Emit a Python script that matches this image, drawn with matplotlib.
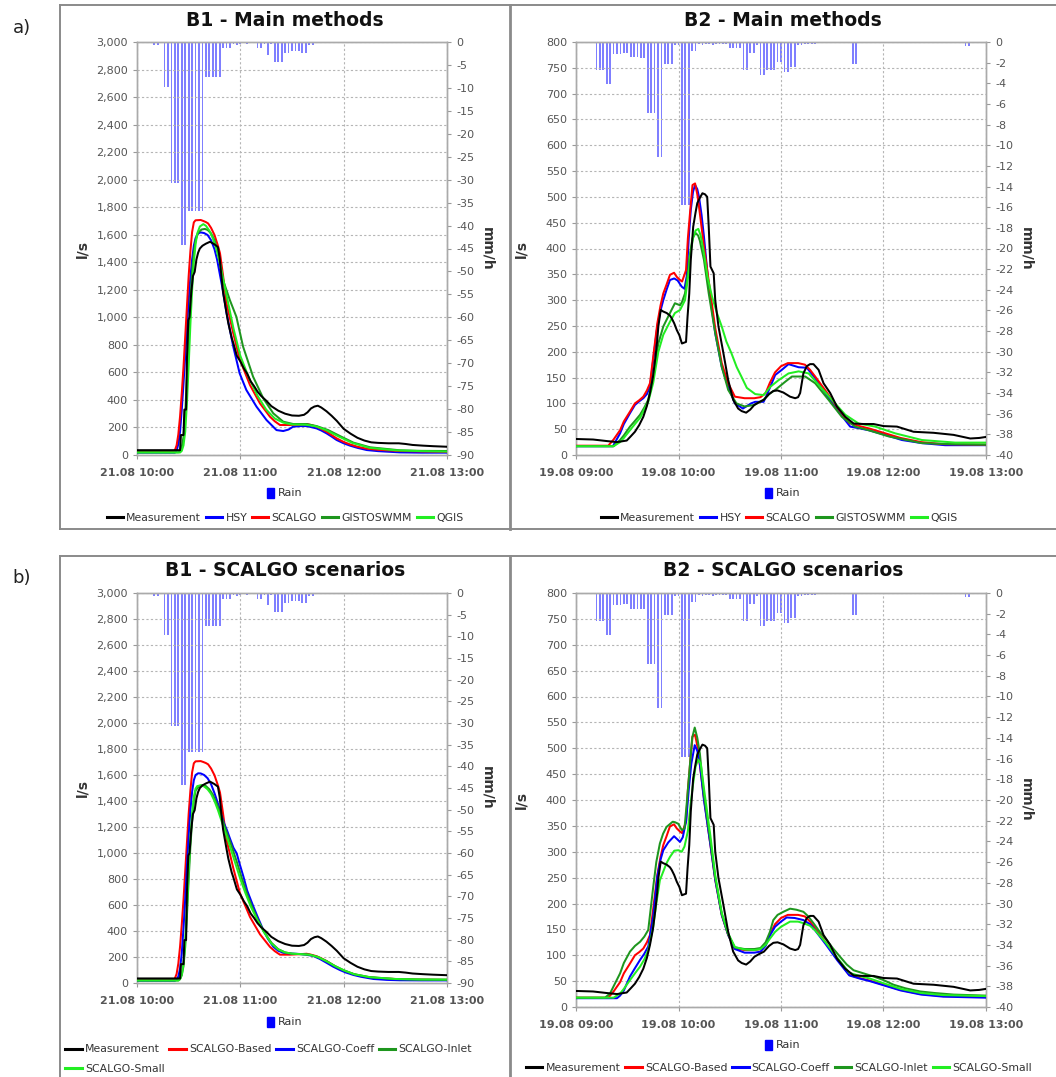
import matplotlib
matplotlib.use('Agg')
import matplotlib.pyplot as plt
from matplotlib.lines import Line2D
from matplotlib.patches import Patch
from matplotlib.ticker import FuncFormatter

plt.rcParams['axes.unicode_minus'] = False
plt.rcParams['font.family'] = ['DejaVu Sans']

# === 1. Data: B1 (minutes after 21.08 10:00) ===
b1_xlabels = ['21.08 10:00', '21.08 11:00', '21.08 12:00', '21.08 13:00']

b1_rain_t = [6, 8, 10, 12, 14, 16, 18, 20, 22, 24, 26, 28, 30, 32, 34, 36, 38, 40, 42, 44,
             46, 48, 50, 52, 54, 56, 58, 60, 62, 64, 66, 68, 70, 72, 74, 76, 78, 80, 82, 84,
             86, 88, 90, 92, 94, 96, 98, 100, 102, 104, 106, 108, 110, 112, 114, 116]
b1_rain = [-0.3, -0.3, -0.6, -0.6, -0.3, -9.7, -9.7, -30.7, -30.7, -30.7, -44.2, -44.2,
           -36.8, -36.8, -36.8, -36.8, -36.8, -7.7, -7.7, -7.7, -7.7, -7.7, -1.3, -1.3, -1.3,
           -0.4, -0.6, -0.4, -0.3, -0.4, -0.3, -0.3, -1.4, -1.4, -0.4, -2.8, -0.5, -4.3, -4.3,
           -4.3, -2.3, -2.3, -1.9, -1.9, -1.9, -2.3, -2.3, -0.7, -0.7, -0.3, -0.3, -0.2, -0.2,
           -0.2, -0.1, -0.1]

b1_meas_t = [0, 25, 25.5, 27, 27.5, 28.5, 29, 29.8, 30.5, 31.5, 32.5, 33.5, 34.5, 35.5, 36.5,
             38, 40, 42.4, 45, 47, 48, 49, 50, 52, 53, 55, 56, 58, 60, 62, 64, 66, 68, 70, 72,
             75, 78, 82, 86, 90, 94, 97, 99, 101, 103, 105, 107, 110, 113, 116, 120, 124, 128,
             132, 136, 140, 146, 152, 156, 160, 166, 172, 180]
b1_meas = [35, 35, 145, 145, 330, 330, 700, 980, 1000, 1180, 1300, 1330, 1420, 1470, 1500,
           1520, 1535, 1549, 1530, 1510, 1430, 1300, 1180, 1030, 958, 850, 810, 720, 680, 630,
           590, 535, 500, 460, 430, 395, 355, 322, 300, 287, 285, 292, 310, 338, 352, 358, 345,
           318, 285, 248, 190, 155, 125, 105, 92, 88, 85, 85, 80, 73, 68, 64, 60]

b1_hsy_t = [0, 22, 23, 24, 25, 26, 27, 28, 29, 30, 31, 32, 33, 34, 35.5, 37, 39, 41, 43, 45,
            46.5, 48, 49.5, 52, 55.9, 59.6, 63.5, 69.4, 75.2, 81, 84.9, 88, 90.7, 95, 98.5,
            101, 104.3, 107, 110.1, 113, 115.9, 120, 123.7, 128, 133.4, 140, 152.7, 165, 180]
b1_hsy = [17, 17, 30, 80, 170, 330, 520, 720, 930, 1120, 1290, 1420, 1520, 1575, 1610, 1617,
          1612, 1598, 1560, 1495, 1420, 1320, 1220, 1031, 787, 593, 472, 351, 254, 181, 174,
          185, 206, 210, 210, 203, 193, 178, 157, 134, 109, 85, 68, 52, 36, 28, 19, 17, 17]

b1_scalgo_t = [0, 21, 22, 23, 24, 25, 26, 27, 28, 29, 30, 31, 32, 33, 34, 37, 38.5, 40, 41.3,
               43, 45, 47, 48.2, 50, 52, 55.9, 59.8, 65.6, 71.4, 77.2, 80, 83, 88.8, 95, 98.5,
               101, 104.3, 107, 110.1, 113, 115.9, 120, 123.7, 128, 133.4, 140, 152.7, 165, 180]
b1_scalgo = [24, 24, 35, 70, 150, 280, 450, 640, 860, 1080, 1300, 1480, 1620, 1690, 1705, 1707,
             1700, 1692, 1682, 1650, 1598, 1520, 1465, 1300, 1101, 884, 690, 508, 375, 278, 245,
             218, 218, 222, 225, 218, 206, 190, 169, 145, 121, 95, 77, 60, 46, 38, 29, 26, 24]

b1_gisto_t = [0, 24, 25, 26, 27, 28, 29, 30, 31, 32, 33, 34, 35.5, 37.5, 39.4, 41, 43, 45, 47,
              50, 53.9, 57.7, 61.6, 67.4, 73.3, 79.1, 84.9, 90.7, 98.5, 104.3, 111, 117.8,
              125.6, 135.3, 152.7, 165, 180]
b1_gisto = [20, 20, 30, 60, 130, 300, 560, 850, 1120, 1330, 1470, 1560, 1615, 1638, 1642, 1635,
            1610, 1560, 1480, 1270, 1126, 1004, 787, 569, 412, 303, 242, 225, 225, 210, 181,
            138, 90, 56, 34, 30, 29]

b1_qgis_t = [0, 25, 26, 27, 28, 29, 30, 31, 32, 33, 34, 35, 36.5, 38.5, 40, 42, 44, 46, 48, 50,
             53, 56, 60, 65, 70, 75, 80, 85, 90, 98, 104, 110, 117, 125, 135, 150, 165, 180]
b1_qgis = [18, 18, 30, 70, 170, 380, 650, 950, 1200, 1400, 1530, 1610, 1660, 1677, 1665, 1630,
           1575, 1500, 1400, 1280, 1100, 920, 720, 560, 430, 330, 265, 235, 222, 220, 208, 180,
           135, 88, 52, 34, 28, 25]

# B1 SCALGO scenarios (Based is the same run as SCALGO above)
b1_based_t = b1_scalgo_t
b1_based = b1_scalgo

b1_coeff_t = [0, 22, 23, 24, 25, 26, 27, 28, 29, 30, 31, 32, 33, 34, 35.5, 37, 39, 41, 43, 45,
              47, 49, 50.5, 52.2, 54, 56, 57.9, 59.5, 61.8, 64, 67.6, 70, 73.3, 76, 79.1, 82,
              84.9, 90, 94.7, 98, 102.3, 106, 110, 114, 117.8, 121, 125.6, 130, 137.2, 145,
              152.7, 165, 180]
b1_coeff = [17, 17, 25, 50, 110, 230, 420, 650, 900, 1130, 1330, 1470, 1560, 1600, 1613, 1612,
            1600, 1575, 1530, 1460, 1380, 1290, 1230, 1177, 1110, 1040, 997, 920, 818, 710, 587,
            510, 408, 340, 280, 248, 233, 226, 223, 218, 208, 186, 156, 125, 100, 82, 62, 48,
            31, 24, 21, 20, 20]

b1_inlet_t = [0, 24, 25, 26, 27, 28, 29, 30, 31, 32, 33, 34, 36, 38, 40, 42, 44, 46, 48, 50,
              52, 55, 58, 61, 64, 67, 70, 74, 78, 82, 86, 90, 95, 100, 105, 110, 115, 120, 126,
              135, 150, 165, 180]
b1_inlet = [20, 20, 30, 60, 130, 280, 520, 800, 1050, 1250, 1400, 1480, 1515, 1522, 1515, 1490,
            1450, 1390, 1320, 1240, 1160, 1050, 930, 800, 680, 580, 490, 390, 310, 260, 235,
            225, 222, 218, 200, 168, 130, 98, 68, 45, 30, 26, 25]

b1_small_t = [0, 24, 25, 26, 27, 28, 29, 30, 31, 32, 33, 34, 35, 37, 39, 41, 43, 45, 47, 49,
              51, 54, 57, 60, 63, 66, 70, 74, 78, 82, 86, 90, 95, 100, 105, 110, 115, 120, 126,
              135, 150, 165, 180]
b1_small = [19, 19, 30, 65, 150, 320, 580, 860, 1120, 1300, 1430, 1495, 1515, 1520, 1512, 1490,
            1455, 1400, 1330, 1250, 1170, 1050, 925, 800, 690, 590, 480, 385, 305, 258, 235,
            226, 222, 218, 200, 168, 130, 98, 68, 45, 31, 27, 26]

# === 2. Data: B2 (minutes after 19.08 09:00) ===
b2_xlabels = ['19.08 09:00', '19.08 10:00', '19.08 11:00', '19.08 12:00', '19.08 13:00']

b2_rain_t = [12, 14, 16, 18, 20, 22, 24, 26, 28, 30, 32, 34, 36, 38, 40, 42, 44, 46, 48, 50,
             52, 54, 56, 58, 60, 62, 64, 66, 68, 70, 72, 74, 76, 78, 80, 82, 84, 86, 88, 90,
             92, 94, 96, 98, 100, 102, 104, 106, 108, 110, 112, 114, 116, 118, 120, 122, 124,
             126, 128, 130, 132, 134, 136, 138, 140, 142, 146, 150, 154, 158, 162, 164, 166,
             170, 174, 178, 228, 230]
b2_rain = [-2.7, -2.7, -2.7, -4.1, -4.1, -1.2, -1.2, -1.2, -1.05, -1.05, -1.5, -1.5, -1.5,
           -1.55, -1.55, -6.85, -6.85, -6.85, -11.1, -11.1, -2.1, -2.1, -2.1, -0.3, -0.3,
           -15.8, -15.8, -15.8, -0.9, -0.9, -0.2, -0.3, -0.2, -0.2, -0.3, -0.2, -0.2, -0.2,
           -0.2, -0.6, -0.6, -0.6, -0.6, -2.7, -2.7, -1.1, -1.1, -0.3, -3.2, -3.2, -2.7, -2.7,
           -2.7, -1.9, -1.9, -2.9, -2.9, -2.4, -2.4, -0.3, -0.3, -0.2, -0.2, -0.2, -0.2, -0.1,
           -0.1, -0.1, -0.1, -0.1, -2.1, -2.1, -0.1, -0.1, -0.1, -0.1, -0.35, -0.35]

b2_meas_t = [0, 10, 18, 24, 29.7, 32, 34.5, 37, 39.4, 41.5, 43.3, 45, 46.3, 47.5, 48.2, 49.6,
             51, 53.1, 55, 56, 57.5, 59, 60.5, 62, 64.4, 65.3, 66.3, 67.2, 68.6, 70, 71, 72.5,
             74, 75.5, 76.8, 77.7, 78.7, 80.6, 81.5, 83.4, 86.3, 89.1, 92, 94.9, 97, 99.6, 102,
             104.4, 107, 110, 113, 115.5, 118, 121.4, 125.3, 128.3, 130, 131.2, 133.1, 135.1,
             137, 139, 142, 144.9, 148.8, 152.7, 157.6, 162.5, 168.3, 174.2, 180, 187.9, 197.6,
             209.3, 221, 230.8, 236, 240]
b2_meas = [31, 30, 27, 25, 28, 36, 45, 58, 74, 95, 120, 150, 184, 220, 249, 281, 278, 275, 270,
           265, 255, 242, 232, 216, 219, 268, 313, 378, 442, 470, 488, 498, 507, 505, 500, 442,
           365, 352, 300, 249, 197, 145, 107, 90, 85, 82, 88, 97, 102, 107, 118, 124, 125, 121,
           113, 110, 112, 120, 158, 172, 176, 176, 165, 139, 120, 94, 74, 61, 60, 60, 56, 55,
           45, 43, 39, 32, 33, 35]

b2_hsy_t = [0, 21.6, 25.8, 28, 31.6, 34.5, 37, 39.4, 41.5, 43.3, 45.2, 47.6, 49.5, 51.1, 53, 55,
            57.5, 59.5, 61.9, 63.5, 64.8, 66, 67.2, 68.5, 69.7, 71, 72, 73.5, 74.9, 77.7, 81.5,
            85.3, 89.1, 93, 97.7, 102.5, 104.9, 109.8, 111.5, 113.7, 116.6, 120.5, 124.4, 130.3,
            135.1, 140, 145.9, 153.7, 160.5, 165.4, 171.3, 181, 190.8, 202.5, 216.1, 240]
b2_hsy = [17, 17, 42, 60, 81, 97, 104, 110, 118, 132, 184, 249, 280, 300, 320, 339, 342, 338,
          326, 322, 346, 420, 475, 510, 523, 515, 500, 465, 423, 326, 236, 171, 132, 100, 90,
          100, 103, 103, 115, 132, 155, 165, 176, 170, 169, 149, 120, 84, 55, 52, 48, 39, 29,
          23, 19, 19]

b2_scalgo_t = [0, 18.9, 22, 25.8, 28, 31.6, 34.5, 37, 39.4, 41.5, 43.3, 45.2, 47.6, 49.5, 51.1,
               53, 55, 57.4, 59, 60.9, 62.1, 64.4, 65.5, 66.9, 68.2, 69.7, 71, 72, 74.9, 78.7,
               81.5, 85.3, 89.1, 93, 98.7, 104.4, 108, 111, 113.5, 116.5, 120, 124, 130, 134,
               137, 140, 146, 153, 160, 166, 172, 180, 190, 202, 215, 240]
b2_scalgo = [18, 18, 30, 48, 65, 84, 100, 106, 113, 125, 139, 190, 255, 290, 313, 330, 349, 353,
             345, 339, 336, 358, 420, 475, 523, 526, 505, 481, 404, 313, 246, 178, 139, 113,
             110, 110, 112, 120, 140, 160, 172, 178, 178, 175, 165, 152, 125, 92, 62, 56, 51,
             43, 33, 25, 21, 20]

b2_gisto_t = [0, 22, 25.8, 28, 31.6, 34.5, 37.5, 40, 42.3, 45.2, 48.2, 51.1, 55, 57.9, 60.9, 62,
              63.8, 65.8, 66.3, 68.2, 70, 71.5, 72.5, 74.9, 77.7, 81.5, 85.3, 89.1, 93.9, 98.7,
              104.4, 109.8, 113, 116.6, 122.5, 126.4, 134.2, 140, 147.8, 155.6, 163.4, 171.3,
              183, 202.5, 220, 240]
b2_gisto = [17, 17, 29, 38, 55, 66, 78, 92, 107, 152, 216, 249, 275, 294, 290, 296, 313, 360,
            380, 420, 430, 425, 415, 378, 313, 236, 171, 126, 100, 94, 97, 107, 118, 126, 142,
            152, 152, 139, 107, 74, 55, 48, 36, 23, 21, 20]

b2_qgis_t = [0, 22, 25.8, 28, 31.6, 34.5, 37.5, 40, 42.3, 45.2, 48.2, 51.1, 55, 57.9, 60.9, 62,
             63.8, 65.8, 67, 68.5, 70, 71.6, 73, 74.9, 77, 79.6, 82.5, 85.3, 88, 91, 94.1, 96.8,
             100, 104.9, 109.8, 113.7, 118.6, 124.4, 130.3, 136.2, 142, 149.8, 157.6, 165.4,
             175.1, 186.8, 202.5, 222, 240]
b2_qgis = [17, 17, 25, 33, 48, 60, 72, 88, 103, 140, 200, 233, 258, 275, 281, 288, 300, 350,
           390, 420, 435, 438, 425, 391, 345, 307, 275, 249, 220, 197, 170, 152, 130, 118, 116,
           132, 145, 158, 162, 158, 136, 107, 78, 61, 55, 42, 29, 24, 24]

# B2 SCALGO scenarios (Based is the same run as SCALGO above)
b2_based_t = b2_scalgo_t
b2_based = b2_scalgo

b2_coeff_t = [0, 24, 25.8, 28, 31.6, 34.5, 37.5, 40, 42.3, 45.2, 47.6, 49.5, 51.1, 54, 57.4, 59,
              60.9, 62.5, 64.5, 66, 67.5, 69.5, 71, 72.5, 74.9, 78.7, 81.5, 85.3, 89.1, 93, 98.7,
              104.4, 108, 111, 113.5, 116.5, 120, 123.3, 128, 133.1, 137, 140, 146, 153, 160,
              166, 172, 180, 190, 202, 215, 240]
b2_coeff = [17, 17, 22, 32, 59, 75, 91, 103, 117, 175, 252, 285, 303, 318, 330, 325, 319, 328,
            360, 420, 470, 506, 495, 470, 400, 313, 246, 178, 139, 112, 105, 105, 107, 118, 138,
            155, 165, 173, 172, 168, 160, 148, 122, 90, 61, 55, 50, 42, 32, 24, 20, 18]

b2_inlet_t = [0, 17, 19.9, 22, 25.8, 28, 31.6, 34.5, 37.5, 40, 42.3, 45.2, 47, 49.1, 51, 53,
              56.6, 58, 59.9, 61.9, 63.5, 65, 66.5, 68, 69.5, 71, 72.5, 74.9, 78.7, 81.5, 85.3,
              89.1, 93, 98.7, 104.4, 108, 111, 113.5, 115.5, 118, 121.4, 125.3, 129, 133.1, 136,
              139, 142.5, 146.8, 150.5, 154.6, 158.5, 162.5, 168.3, 174.2, 180, 185.9, 193,
              201.5, 210, 221, 240]
b2_inlet = [18, 18, 26, 40, 65, 85, 107, 118, 126, 136, 149, 232, 280, 316, 335, 348, 358, 357,
            354, 342, 345, 400, 460, 520, 540, 520, 490, 410, 320, 250, 180, 140, 115, 112, 112,
            114, 125, 145, 168, 178, 184, 190, 188, 184, 175, 162, 146, 129, 113, 97, 82, 71,
            65, 59, 52, 43, 36, 30, 27, 24, 22]

b2_small_t = [0, 22, 25.8, 28, 31.6, 34.5, 37.5, 40, 42.3, 45.2, 47, 49.1, 51.1, 53, 55, 57.5,
              59.9, 61.9, 63.5, 65.5, 67, 68.5, 70, 71.5, 73, 75, 78.7, 81.5, 85.3, 89.1, 93,
              98.7, 104.4, 108, 111, 113.5, 116.5, 120, 125.3, 130, 133.1, 137, 140, 146, 153,
              160, 166, 172, 180, 190, 202, 215, 240]
b2_small = [18, 18, 26, 35, 52, 65, 78, 92, 110, 155, 200, 245, 262, 278, 290, 302, 303, 300,
            310, 340, 390, 430, 465, 478, 470, 420, 330, 255, 182, 142, 116, 111, 110, 112, 120,
            132, 145, 155, 165, 165, 162, 157, 148, 125, 95, 66, 60, 55, 46, 35, 27, 23, 21]

# === 3. Styling ===
W, H = 1056, 1077
BLACK, BLUE, RED, DGREEN, LGREEN = '#000000', '#0000ff', '#ff0000', '#1e961e', '#22ee22'
TICK_GRAY = '#555555'
FRAME = '#8a8a8a'

fig = plt.figure(figsize=(W / 100, H / 100), dpi=100)
fig.patch.set_facecolor('white')


def fig_line(xs, ys, lw=1.4):
    fig.add_artist(Line2D([x / W for x in xs], [1 - y / H for y in ys],
                          transform=fig.transFigure, color=FRAME, lw=lw))


def panel(box, cx, title_y, title, rain_t, rain_v, rmin, rstep, ymax, ystep,
          xlabels, series, rain_leg_y):
    x0, y0, x1, y1 = box
    ax = fig.add_axes([x0 / W, 1 - y1 / H, (x1 - x0) / W, (y1 - y0) / H])
    ax2 = ax.twinx()
    ax2.bar(rain_t, rain_v, width=1.05, color='#7f7fff', linewidth=0)
    ax2.set_ylim(rmin, 0)
    ax2.set_yticks(list(range(0, rmin - 1, -rstep)))
    ax.set_zorder(ax2.get_zorder() + 1)
    ax.patch.set_visible(False)

    handles = []
    for name, t, v, color in series:
        z = 5 if color == BLACK else 3
        ax.plot(t, v, color=color, lw=1.45, zorder=z, solid_joinstyle='round')
        handles.append(Line2D([], [], color=color, lw=2.2, label=name))

    xmax = 60 * (len(xlabels) - 1)
    ax.set_xlim(0, xmax)
    ax.set_ylim(0, ymax)
    ax.set_xticks([60 * i for i in range(len(xlabels))])
    ax.set_xticklabels(xlabels, fontsize=6.8, fontweight='bold', color='#333333')
    ax.set_yticks(list(range(0, ymax + 1, ystep)))
    ax.yaxis.set_major_formatter(FuncFormatter(lambda v, p: f'{v:,.0f}'))
    ax.grid(True, color='#b5b5b5', linestyle=(0, (2, 2)), linewidth=0.8)
    for a in (ax, ax2):
        a.tick_params(labelsize=8, labelcolor=TICK_GRAY, color='#999999', length=3, width=0.8)
        for s in a.spines.values():
            s.set_color('#aaaaaa')
            s.set_linewidth(1.0)
    ax.tick_params(axis='x', pad=6)

    fig.text(cx / W, 1 - title_y / H, title, ha='center', va='center',
             fontsize=13.5, fontweight='bold', color='#111111')
    ymid = (y0 + y1) / 2
    fig.text((x0 - 55) / W, 1 - ymid / H, 'l/s', rotation=90, ha='center', va='center',
             fontsize=10, fontweight='bold', color='#333333')
    fig.text((x1 + 40) / W, 1 - ymid / H, 'mm/h', rotation=270, ha='center', va='center',
             fontsize=10, fontweight='bold', color='#333333')

    fig.legend(handles=[Patch(color=BLUE, label='Rain')], loc='center',
               bbox_to_anchor=(cx / W, 1 - rain_leg_y / H), frameon=False, fontsize=8,
               handlelength=0.55, handleheight=1.0, handletextpad=0.4, borderpad=0,
               labelcolor='#333333')
    return handles


def series_legend(handles, anchor, loc, ncol):
    fig.legend(handles=handles, loc=loc, bbox_to_anchor=anchor, ncol=ncol, frameon=False,
               fontsize=7.8, handlelength=1.5, handletextpad=0.3, columnspacing=0.45,
               borderpad=0, labelspacing=0.85, labelcolor='#333333')


# === 4. Panel frames ===
fig_line([60, W], [5, 5])
fig_line([60, 60], [5, 529])
fig_line([60, W], [529, 529])
fig_line([510, 510], [5, 529], lw=2.0)
fig_line([60, W], [556, 556])
fig_line([60, 60], [556, H])
fig_line([510, 510], [556, H], lw=2.0)

fig.text(22 / W, 1 - 28 / H, 'a)', ha='center', va='center', fontsize=13, color='#222222')
fig.text(22 / W, 1 - 578 / H, 'b)', ha='center', va='center', fontsize=13, color='#222222')

# === 5. Panels ===
h = panel((137, 42, 447, 455), 285, 20, 'B1 - Main methods', b1_rain_t, b1_rain, -90, 5,
          3000, 200, b1_xlabels,
          [('Measurement', b1_meas_t, b1_meas, BLACK), ('HSY', b1_hsy_t, b1_hsy, BLUE),
           ('SCALGO', b1_scalgo_t, b1_scalgo, RED),
           ('GISTOSWMM', b1_gisto_t, b1_gisto, DGREEN), ('QGIS', b1_qgis_t, b1_qgis, LGREEN)],
          493)
series_legend(h, (285 / W, 1 - 518 / H), 'center', 5)

h = panel((576, 42, 986, 455), 783, 20, 'B2 - Main methods', b2_rain_t, b2_rain, -40, 2,
          800, 50, b2_xlabels,
          [('Measurement', b2_meas_t, b2_meas, BLACK), ('HSY', b2_hsy_t, b2_hsy, BLUE),
           ('SCALGO', b2_scalgo_t, b2_scalgo, RED),
           ('GISTOSWMM', b2_gisto_t, b2_gisto, DGREEN), ('QGIS', b2_qgis_t, b2_qgis, LGREEN)],
          493)
series_legend(h, (779 / W, 1 - 518 / H), 'center', 5)

h = panel((137, 593, 447, 983), 285, 571, 'B1 - SCALGO scenarios', b1_rain_t, b1_rain, -90, 5,
          3000, 200, b1_xlabels,
          [('Measurement', b1_meas_t, b1_meas, BLACK),
           ('SCALGO-Based', b1_based_t, b1_based, RED),
           ('SCALGO-Coeff', b1_coeff_t, b1_coeff, BLUE),
           ('SCALGO-Inlet', b1_inlet_t, b1_inlet, DGREEN),
           ('SCALGO-Small', b1_small_t, b1_small, LGREEN)],
          1022)
# first column holds Measurement + SCALGO-Small, so Small wraps onto the second row
series_legend([h[0], h[4], h[1], h[2], h[3]], (60 / W, 1 - 1039 / H), 'upper left', 4)

h = panel((576, 593, 986, 1007), 783, 571, 'B2 - SCALGO scenarios', b2_rain_t, b2_rain, -40, 2,
          800, 50, b2_xlabels,
          [('Measurement', b2_meas_t, b2_meas, BLACK),
           ('SCALGO-Based', b2_based_t, b2_based, RED),
           ('SCALGO-Coeff', b2_coeff_t, b2_coeff, BLUE),
           ('SCALGO-Inlet', b2_inlet_t, b2_inlet, DGREEN),
           ('SCALGO-Small', b2_small_t, b2_small, LGREEN)],
          1045)
series_legend(h, (779 / W, 1 - 1068 / H), 'center', 5)

fig.savefig('out.png', dpi=100, facecolor='white')
